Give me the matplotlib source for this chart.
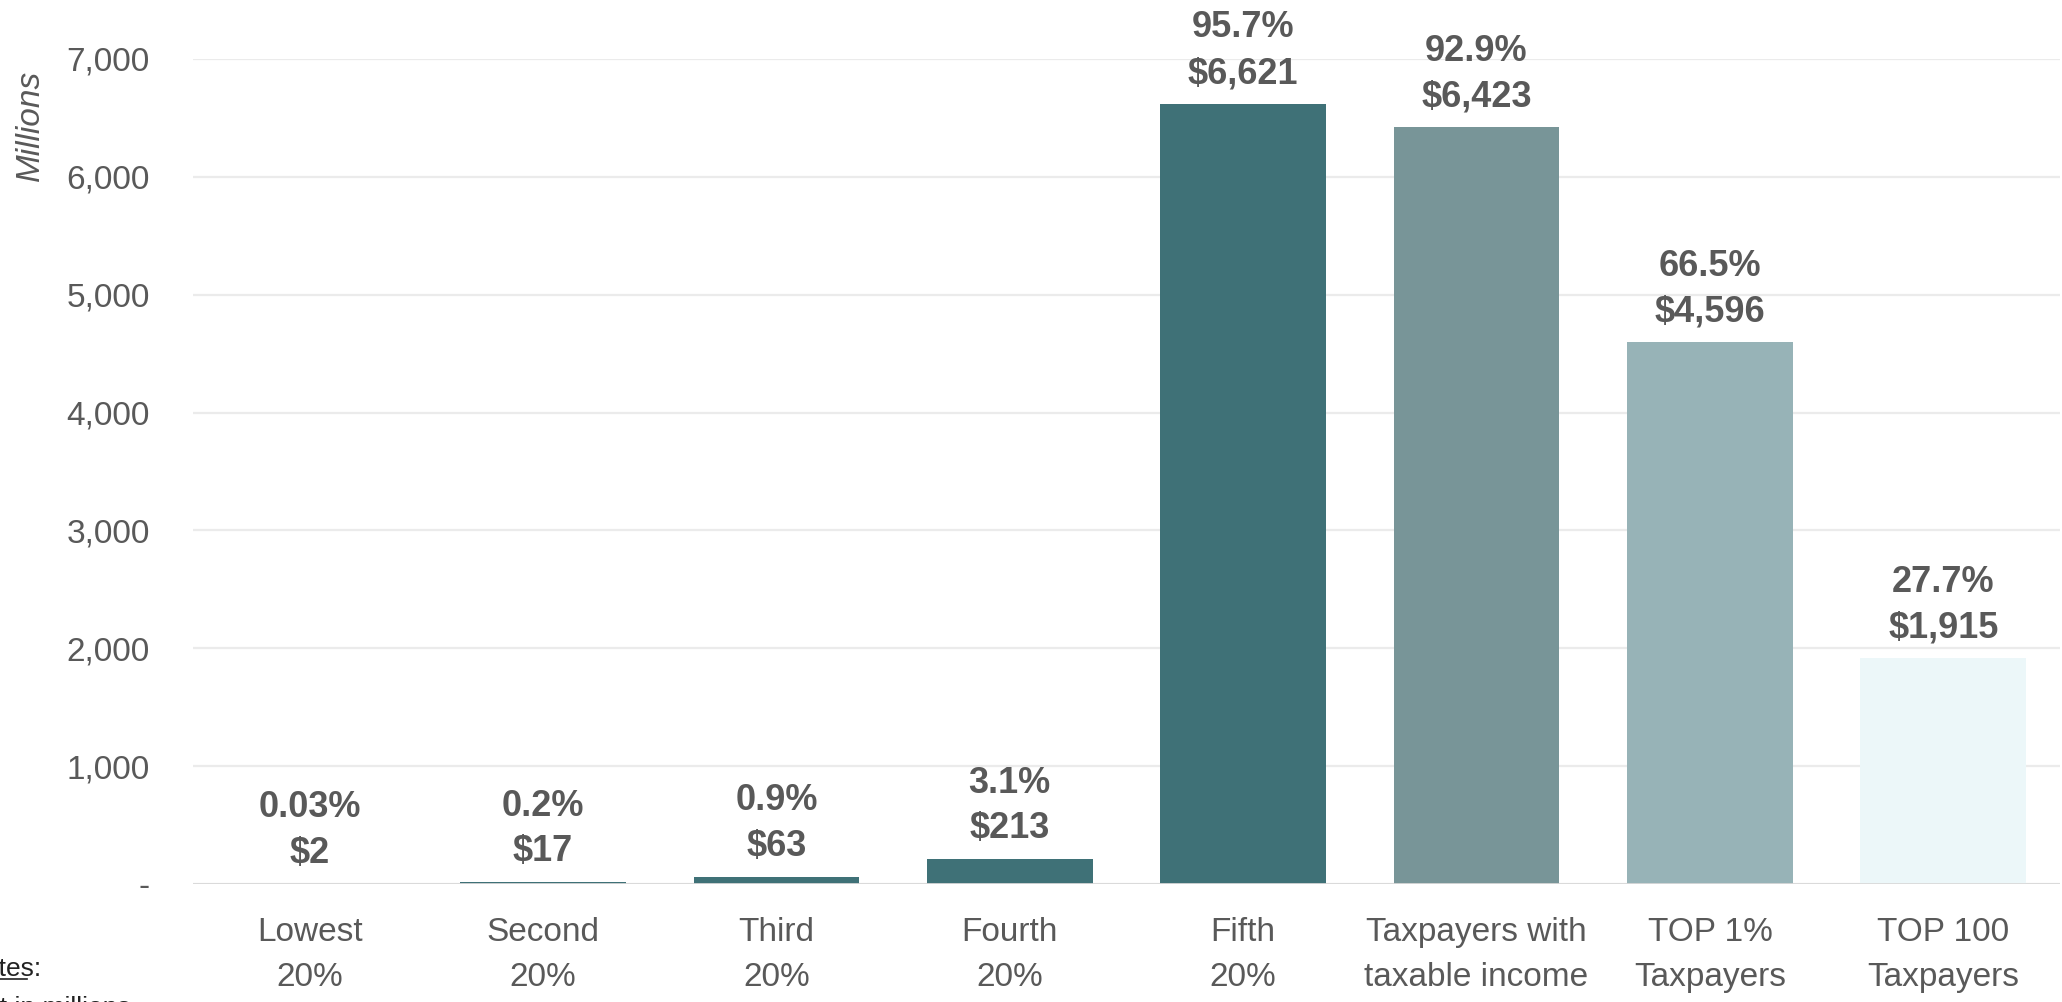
import matplotlib
matplotlib.use("Agg")
import matplotlib.pyplot as plt
from matplotlib.lines import Line2D

categories = ["Lowest\n20%", "Second\n20%", "Third\n20%", "Fourth\n20%", "Fifth\n20%",
              "Taxpayers with\ntaxable income", "TOP 1%\nTaxpayers", "TOP 100\nTaxpayers"]
values = [2, 17, 63, 213, 6621, 6423, 4596, 1915]
shares = ["0.03%", "0.2%", "0.9%", "3.1%", "95.7%", "92.9%", "66.5%", "27.7%"]
colors = ["#3F7177", "#3F7177", "#3F7177", "#3F7177", "#3F7177", "#789598", "#97B3B7", "#ECF7F9"]
yticks = [0, 1000, 2000, 3000, 4000, 5000, 6000, 7000]
ytick_labels = ["-", "1,000", "2,000", "3,000", "4,000", "5,000", "6,000", "7,000"]

plt.rcParams['font.family'] = ['Liberation Sans', 'DejaVu Sans']
W, H = 2062, 1002
fig = plt.figure(figsize=(W / 100, H / 100), dpi=100)
ax = fig.add_axes([193 / W, 118 / H, (2060 - 193) / W, (943 - 118) / H])

x = list(range(len(categories)))
ax.bar(x, values, width=0.71, color=colors, zorder=3)
ax.set_xlim(-0.5, len(categories) - 0.5)
ax.set_ylim(0, 7000)

for s in ax.spines.values():
    s.set_visible(False)
ax.set_yticks(yticks)
ax.set_yticklabels(ytick_labels)
ax.yaxis.grid(True, color="#EBEBEB", linewidth=1.6, zorder=0)
ax.axhline(0, color="#D9D9D9", linewidth=2, zorder=4)
ax.tick_params(axis="y", length=0, pad=31, labelsize=24, labelcolor="#595959")
ax.set_xticks(x)
ax.set_xticklabels(categories, linespacing=1.58)
ax.tick_params(axis="x", length=0, pad=24, labelsize=24, labelcolor="#595959")

ax.set_ylabel("Millions", fontsize=24, style="italic", color="#595959")
ax.yaxis.set_label_coords(-0.079, 0.92)

for xi, v, s in zip(x, values, shares):
    ax.annotate(f"{s}\n${v:,}", (xi, v), xytext=(0, 9), textcoords="offset points",
                ha="center", va="bottom", fontsize=26, fontweight="bold",
                color="#595959", linespacing=1.4, clip_on=False)

fig.text(-34 / W, 1 - 976 / H, "Notes:", fontsize=19, color="#222222", va="baseline", ha="left")
fig.add_artist(Line2D([0, 27 / W], [1 - 979 / H, 1 - 979 / H], color="#222222", linewidth=1.2))
fig.text(-84 / W, 1 - 1015 / H, "Amount in millions", fontsize=19, color="#222222", va="baseline", ha="left")

fig.savefig("out.png", dpi=100)
